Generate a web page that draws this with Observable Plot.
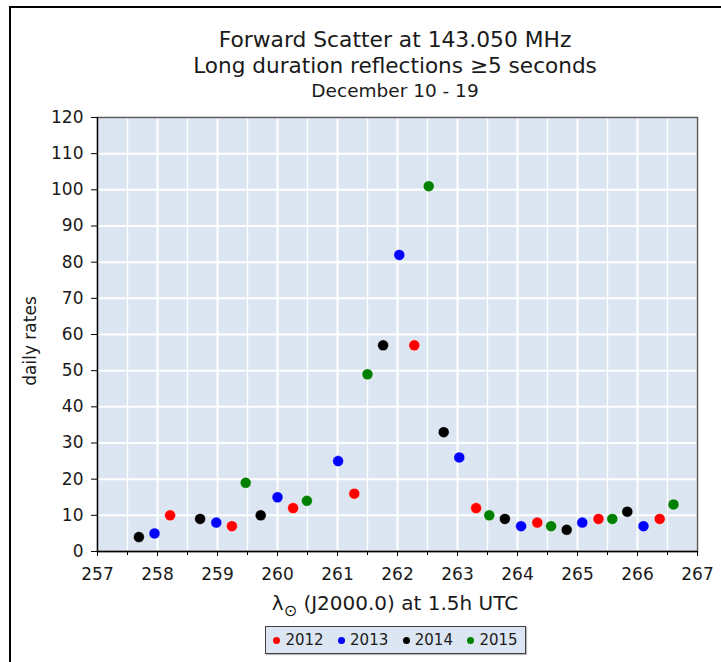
<!DOCTYPE html>
<html>
<head>
<meta charset="utf-8">
<script src="https://cdn.jsdelivr.net/npm/d3@7"></script>
<script src="https://cdn.jsdelivr.net/npm/@observablehq/plot@0.6"></script>
<style>
  html, body { margin: 0; padding: 0; background: #fff; }
  #fig { position: relative; width: 721px; height: 662px; overflow: hidden; font-family: "DejaVu Sans", Verdana, sans-serif; color: #1a1a1a; }
  #border { position: absolute; left: 9px; top: 6px; right: -10px; bottom: -10px; border-left: 2px solid #000; border-top: 2px solid #000; }
  .t { position: absolute; left: 0; width: 790px; text-align: center; white-space: nowrap; }
  #chart { position: absolute; left: 0; top: 0; }
  #ylab { position: absolute; left: 30px; top: 341px; transform: translate(-50%, -50%) rotate(-90deg); font-size: 17px; white-space: nowrap; }
  #legend { position: absolute; left: 265px; top: 626px; width: 259px; height: 26px; background: #dce6f2; border: 1.5px solid #404040; box-shadow: 1px 1px 1px #bbb; display: flex; align-items: center; justify-content: center; gap: 14.5px; font-size: 15px; }
  .item { display: flex; align-items: center; gap: 5px; }
  .sw { width: 7px; height: 7px; border-radius: 50%; display: inline-block; }
</style>
</head>
<body>
<div id="fig">
  <div id="border"></div>
  <div class="t" style="top:27px;font-size:21.8px;">Forward Scatter at 143.050 MHz</div>
  <div class="t" style="top:53px;font-size:21.6px;">Long duration reflections ≥5 seconds</div>
  <div class="t" style="top:80px;font-size:18.5px;">December 10 - 19</div>
  <div id="chart"></div>
  <div id="ylab">daily rates</div>
  <div class="t" style="top:591px;font-size:20px;">λ<span style="font-size:16px;position:relative;top:6px;">⊙</span> (J2000.0) at 1.5h UTC</div>
  <div id="legend"></div>
</div>
<script>
// ---- data ----
const years = ["2012", "2013", "2014", "2015"];
const yearColors = ["#ff0000", "#0000ff", "#000000", "#008000"];

const lambda2012 = [258.21, 259.24, 260.26, 261.28, 262.28, 263.31, 264.33, 265.35, 266.37];
const rates2012  = [10, 7, 12, 16, 57, 12, 8, 9, 9];

const lambda2013 = [257.95, 258.98, 260.00, 261.01, 262.03, 263.03, 264.06, 265.08, 266.10];
const rates2013  = [5, 8, 15, 25, 82, 26, 7, 8, 7];

const lambda2014 = [257.69, 258.71, 259.72, 261.76, 262.77, 263.79, 264.82, 265.83];
const rates2014  = [4, 9, 10, 57, 33, 9, 6, 11];

const lambda2015 = [259.47, 260.49, 261.50, 262.52, 263.53, 264.56, 265.58, 266.60];
const rates2015  = [19, 14, 49, 101, 10, 7, 9, 13];

const xTicks = [257, 258, 259, 260, 261, 262, 263, 264, 265, 266, 267];
const xMinorTicks = [257.5, 258.5, 259.5, 260.5, 261.5, 262.5, 263.5, 264.5, 265.5, 266.5];
const yTicks = [0, 10, 20, 30, 40, 50, 60, 70, 80, 90, 100, 110, 120];

// ---- build table ----
const series = [
  [lambda2012, rates2012],
  [lambda2013, rates2013],
  [lambda2014, rates2014],
  [lambda2015, rates2015]
];
const points = [];
series.forEach(([xs, ys], i) => xs.forEach((x, j) => points.push({year: years[i], lambda: x, rate: ys[j]})));

const chart = Plot.plot({
  width: 721,
  height: 620,
  marginLeft: 97,
  marginRight: 24,
  marginTop: 117,
  marginBottom: 69,
  style: {fontFamily: "DejaVu Sans, Verdana, sans-serif", fontSize: "17px", color: "#1a1a1a", background: "transparent"},
  x: {domain: [257, 267]},
  y: {domain: [0, 120]},
  color: {domain: years, range: yearColors},
  marks: [
    Plot.frame({fill: "#dce6f2", stroke: null}),
    Plot.ruleX(xMinorTicks, {stroke: "#fff", strokeWidth: 1.3}),
    Plot.ruleX(xTicks, {stroke: "#fff", strokeWidth: 2}),
    Plot.ruleY(yTicks, {stroke: "#fff", strokeWidth: 2}),
    Plot.frame({stroke: "#5a5a5a", strokeWidth: 1.5}),
    Plot.ruleY([0], {stroke: "#000", strokeWidth: 1.3}),
    Plot.ruleX([257], {stroke: "#000", strokeWidth: 1.3}),
    Plot.axisX({ticks: xTicks, tickSize: 5, tickPadding: 11, tickFormat: d => String(d), label: null, stroke: "#000"}),
    Plot.axisX({ticks: xMinorTicks, tickSize: 4, tickFormat: () => "", label: null, stroke: "#000"}),
    Plot.axisY({ticks: yTicks, tickSize: 6, tickPadding: 8, tickFormat: d => String(d), label: null, stroke: "#000"}),
    Plot.dot(points, {x: "lambda", y: "rate", fill: "year", r: 5.5, stroke: "#fff", strokeWidth: 0.6, strokeOpacity: 0.8})
  ]
});
document.getElementById("chart").appendChild(chart);

// ---- legend ----
const legend = document.getElementById("legend");
years.forEach((y, i) => {
  const it = document.createElement("span");
  it.className = "item";
  it.innerHTML = `<span class="sw" style="background:${yearColors[i]}"></span><span>${y}</span>`;
  legend.appendChild(it);
});
</script>
</body>
</html>
